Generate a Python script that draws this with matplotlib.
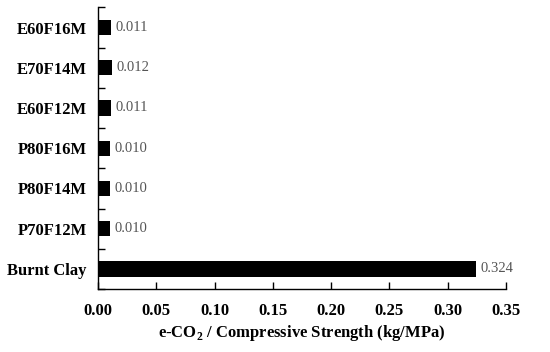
import matplotlib.pyplot as plt
import numpy as np

plt.rcParams['font.family'] = ['Liberation Serif', 'DejaVu Serif']
plt.rcParams['mathtext.fontset'] = 'custom'
plt.rcParams['mathtext.rm'] = 'Liberation Serif'
plt.rcParams['mathtext.bf'] = 'Liberation Serif:bold'

categories = ['Burnt Clay', 'P70F12M', 'P80F14M', 'P80F16M', 'E60F12M', 'E70F14M', 'E60F16M']
values = [0.324, 0.010, 0.010, 0.010, 0.011, 0.012, 0.011]
labels = ['0.324', '0.010', '0.010', '0.010', '0.011', '0.012', '0.011']
xticks = [0.00, 0.05, 0.10, 0.15, 0.20, 0.25, 0.30, 0.35]

fig = plt.figure(figsize=(5.5, 3.52), dpi=100)
ax = fig.add_axes([0.178, 0.179, 0.742, 0.80])

pos = np.arange(len(categories))
bars = ax.barh(pos, values, height=0.38, color='black')
for b, lab in zip(bars, labels):
    ax.text(b.get_width() + 0.004, b.get_y() + b.get_height() / 2, lab,
            va='center', ha='left', fontsize=10.5, color='#555555')

ax.set_xlim(0, 0.35)
ax.set_ylim(-0.5, 6.5)
ax.set_xticks(xticks)
ax.set_xticklabels(['%.2f' % t for t in xticks], fontsize=12, fontweight='bold')
ax.set_yticks(pos)
ax.set_yticklabels(categories, fontsize=12, fontweight='bold')
ax.tick_params(axis='y', which='major', length=0, pad=8)
ax.set_yticks(np.arange(-0.5, 6.6, 1.0), minor=True)
ax.tick_params(axis='y', which='minor', direction='in', length=5, width=1)
ax.tick_params(axis='x', direction='in', length=5, width=1, pad=10)

for s in ['top', 'right']:
    ax.spines[s].set_visible(False)
for s in ['left', 'bottom']:
    ax.spines[s].set_linewidth(1)

ax.set_xlabel(r'e-CO$_{\mathbf{2}}$ / Compressive Strength (kg/MPa)', fontsize=12,
              fontweight='bold', labelpad=3)

fig.savefig('out.png', dpi=100)
